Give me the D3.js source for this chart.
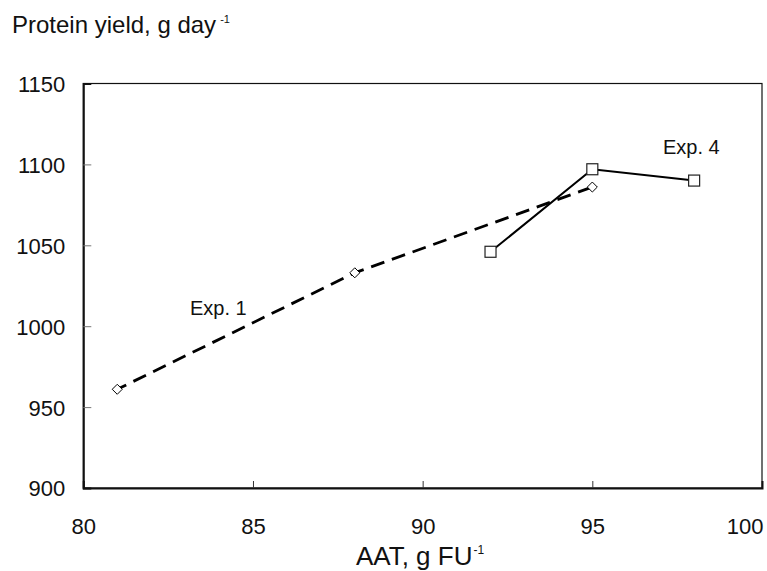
<!DOCTYPE html>
<html>
<head>
<meta charset="utf-8">
<script src="https://cdn.jsdelivr.net/npm/d3@7"></script>
<style>
  html, body { margin: 0; padding: 0; background: #fff; }
  svg text { font-family: "Liberation Sans", Arial, sans-serif; fill: #111; }
</style>
</head>
<body>
<svg id="chart" width="767" height="571"></svg>
<script>
// ---- Data ----
const exp1X = [81, 88, 95];
const exp1Y = [961, 1033, 1086];
const exp4X = [92, 95, 98];
const exp4Y = [1046, 1097, 1090];
const xTicks = [80, 85, 90, 95, 100];
const yTicks = [900, 950, 1000, 1050, 1100, 1150];
const seriesLabels = ["Exp. 1", "Exp. 4"];

const svg = d3.select("#chart");
const mLeft = 83.3, mRight = 762, mTop = 83.5, mBottom = 488;

const x = d3.scaleLinear().domain([80, 100]).range([mLeft, mRight]);
const y = d3.scaleLinear().domain([900, 1150]).range([mBottom, mTop]);

// frame
svg.append("rect")
  .attr("x", mLeft).attr("y", mTop)
  .attr("width", mRight - mLeft).attr("height", mBottom - mTop)
  .attr("fill", "none").attr("stroke", "#111").attr("stroke-width", 1.2);

// Y axis (ticks inward)
const yAxis = d3.axisLeft(y).tickValues(yTicks).tickSize(-8).tickPadding(0).tickFormat(d3.format("d"));
const gy = svg.append("g").attr("transform", `translate(${mLeft},0)`).call(yAxis);
gy.select(".domain").attr("stroke", "#111").attr("stroke-width", 2);
gy.selectAll(".tick line").attr("stroke", "#777").attr("stroke-width", 1)
  .attr("display", d => (d === 900 || d === 1150) ? "none" : null);
gy.selectAll(".tick text").attr("x", -18).attr("dy", "0.36em")
  .style("font-size", "22px").attr("text-anchor", "end");

// X axis (ticks inward)
const xAxis = d3.axisBottom(x).tickValues(xTicks).tickSize(-7).tickPadding(0).tickFormat(d3.format("d"));
const gx = svg.append("g").attr("transform", `translate(0,${mBottom})`).call(xAxis);
gx.select(".domain").attr("stroke", "#111").attr("stroke-width", 2);
gx.selectAll(".tick line").attr("stroke", "#333").attr("stroke-width", 1)
  .attr("display", d => (d === 80 || d === 100) ? "none" : null);
gx.selectAll(".tick text").attr("y", 46).attr("dy", 0)
  .style("font-size", "22px")
  .attr("text-anchor", d => d === 100 ? "end" : "middle")
  .attr("x", d => d === 100 ? 1 : 0);

// Lines
const line = d3.line().x(d => x(d[0])).y(d => y(d[1]));
const exp1 = exp1X.map((v, i) => [v, exp1Y[i]]);
const exp4 = exp4X.map((v, i) => [v, exp4Y[i]]);

svg.append("path").datum(exp1).attr("d", line)
  .attr("fill", "none").attr("stroke", "#000").attr("stroke-width", 2.8)
  .attr("stroke-dasharray", "14,8").attr("stroke-dashoffset", 4);
svg.append("path").datum(exp4).attr("d", line)
  .attr("fill", "none").attr("stroke", "#000").attr("stroke-width", 2);

// Markers
svg.selectAll(".diamond").data(exp1).enter().append("path")
  .attr("class", "diamond")
  .attr("d", d3.symbol().type(d3.symbolDiamond2).size(64))
  .attr("transform", d => `translate(${x(d[0])},${y(d[1])})`)
  .attr("fill", "#fff").attr("stroke", "#000").attr("stroke-width", 1);
svg.selectAll(".square").data(exp4).enter().append("rect")
  .attr("class", "square")
  .attr("x", d => x(d[0]) - 5.5).attr("y", d => y(d[1]) - 5.5)
  .attr("width", 11).attr("height", 11)
  .attr("fill", "#fff").attr("stroke", "#222").attr("stroke-width", 1.2);

// Series labels
svg.append("text").attr("x", 190).attr("y", 315).style("font-size", "20px").text(seriesLabels[0]);
svg.append("text").attr("x", 663).attr("y", 154).style("font-size", "20px").text(seriesLabels[1]);

// Axis titles
const yt = svg.append("text").attr("x", 12).attr("y", 33).style("font-size", "24px");
yt.append("tspan").text("Protein yield, g day");
yt.append("tspan").attr("dx", 4).attr("dy", -10).style("font-size", "11px").text("-1");

const xt = svg.append("text").attr("x", 420).attr("y", 565).attr("text-anchor", "middle").style("font-size", "26px");
xt.append("tspan").text("AAT, g FU");
xt.append("tspan").attr("dx", 1).attr("dy", -11).style("font-size", "12px").text("-1");
</script>
</body>
</html>
